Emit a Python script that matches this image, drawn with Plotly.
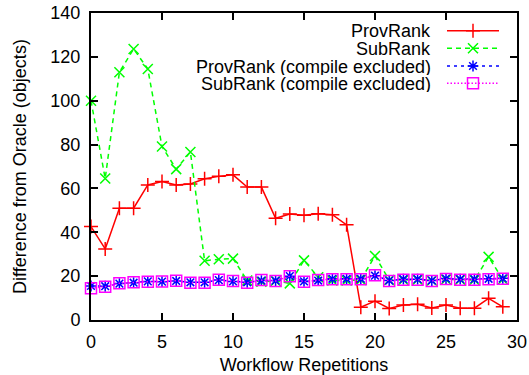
import plotly.graph_objects as go

repetitions = list(range(30))
prov_rank = [42.6, 32.4, 51.0, 51.0, 61.6, 63.2, 61.6, 62.0, 64.4, 65.5, 66.2, 60.6, 60.6, 46.4, 48.3,
             47.8, 48.5, 48.0, 43.4, 5.8, 8.6, 5.3, 6.8, 7.2, 5.5, 6.8, 5.4, 5.4, 9.9, 6.0]
sub_rank = [100.0, 64.5, 113.0, 123.6, 114.5, 79.1, 68.8, 76.6, 27.0, 27.7, 28.0, 18.0, 17.5, 17.8, 16.7,
            27.2, 19.5, 18.0, 18.0, 18.3, 29.2, 18.2, 18.2, 18.4, 18.0, 18.5, 18.4, 18.2, 28.8, 18.5]
prov_rank_ce = [15.5, 15.4, 16.6, 17.0, 17.6, 17.5, 17.8, 17.2, 17.2, 18.2, 17.6, 17.2, 18.0, 18.0, 20.0,
                17.6, 18.0, 18.8, 18.8, 18.8, 20.2, 18.0, 18.6, 18.6, 18.0, 18.9, 18.6, 18.6, 18.8, 19.0]
sub_rank_ce = [14.5, 15.2, 16.8, 17.2, 17.4, 17.6, 17.9, 17.0, 17.0, 18.4, 17.8, 17.0, 18.2, 17.8, 20.0,
               17.4, 18.2, 18.6, 18.6, 18.6, 20.4, 17.8, 18.4, 18.4, 17.8, 18.7, 18.4, 18.4, 18.6, 18.8]

series_names = ["ProvRank", "SubRank", "ProvRank (compile excluded)", "SubRank (compile excluded)"]
x_ticks = [0, 5, 10, 15, 20, 25, 30]
y_ticks = [0, 20, 40, 60, 80, 100, 120, 140]

FONT = "Liberation Sans, Arial, Helvetica, sans-serif"
FS = 18

W, H = 529, 375
L, R, T, B = 91, 12, 13, 55
pw, ph = W - L - R, H - T - B

def px_x(p):
    return (p - L) / pw

def px_y(p):
    return (H - B - p) / ph

styles = [
    dict(color="#ff0000", dash="solid", symbol="cross-thin", size=10, lw=1.5),
    dict(color="#00ff00", dash="5px,4px", symbol="x-thin", size=10, lw=1.5),
    dict(color="#0000ff", dash="3px,4px", symbol="asterisk", size=9, lw=1.5),
    dict(color="#ff00ff", dash="1.5px,2px", symbol="square-open", size=11, lw=1.5),
]
data = [prov_rank, sub_rank, prov_rank_ce, sub_rank_ce]
legend_ids = ["legend", "legend2", "legend3", "legend4"]
row_y = [30.7, 48.3, 66.0, 83.3]

fig = go.Figure()
for name, ys, st, lid in zip(series_names, data, styles, legend_ids):
    fig.add_trace(go.Scatter(
        x=repetitions, y=ys, mode="lines+markers", name="",
        legend=lid, showlegend=True, cliponaxis=False,
        line=dict(color=st["color"], dash=st["dash"], width=st["lw"]),
        marker=dict(symbol=st["symbol"], size=st["size"], color=st["color"],
                    line=dict(color=st["color"], width=1.5)),
        hovertext=name,
    ))

legend_layout = {}
annotations = []
for lid, ry, name in zip(legend_ids, row_y, series_names):
    legend_layout[lid] = dict(
        x=px_x(442), y=px_y(ry), xanchor="left", yanchor="middle",
        bgcolor="rgba(0,0,0,0)", borderwidth=0, visible=True, itemwidth=52,
        font=dict(family=FONT, size=12, color="black"),
    )
    annotations.append(dict(
        x=px_x(433), y=px_y(ry), xref="paper", yref="paper",
        text=name, showarrow=False, xanchor="right", yanchor="middle",
        height=17, valign="middle",
        font=dict(family=FONT, size=FS, color="black"),
    ))

axis_common = dict(
    showline=True, linecolor="black", linewidth=2, mirror="ticks",
    ticks="inside", ticklen=7, tickwidth=1.5, tickcolor="black",
    showgrid=False, zeroline=False,
    tickfont=dict(family=FONT, size=FS, color="black"),
)

fig.update_layout(
    width=W, height=H,
    margin=dict(l=L, r=R, t=T, b=B),
    paper_bgcolor="white", plot_bgcolor="white",
    showlegend=True,
    font=dict(family=FONT, size=FS, color="black"),
    xaxis=dict(range=[0, 30], tickvals=x_ticks, ticktext=[str(v) for v in x_ticks],
               title=dict(text="Workflow Repetitions", standoff=13,
                          font=dict(family=FONT, size=FS, color="black")),
               ticklabelstandoff=4, automargin=False, **axis_common),
    yaxis=dict(range=[0, 140], tickvals=y_ticks, ticktext=[str(v) for v in y_ticks],
               title=dict(text="Difference from Oracle (objects)", standoff=19,
                          font=dict(family=FONT, size=FS, color="black")),
               ticklabelstandoff=5, automargin=False, **axis_common),
    annotations=annotations,
    **legend_layout,
)

fig.write_html("out.html")
